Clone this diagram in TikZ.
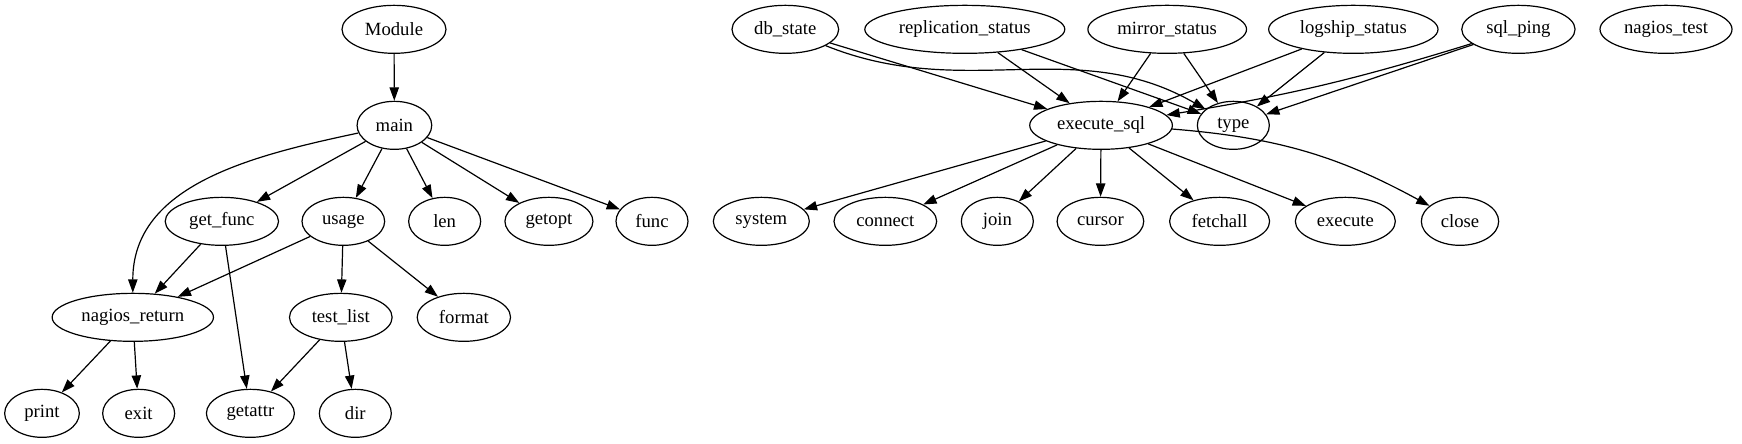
\documentclass[tikz,border=0pt]{standalone}
\usepackage{fontspec}
\setmainfont{Liberation Serif}
\usetikzlibrary{arrows.meta,shapes.geometric}

\begin{document}
\begin{tikzpicture}[x=1pt, y=1pt,
  fn/.style={draw, ellipse, line width=0.9pt, inner xsep=1pt, inner ysep=2pt, minimum width=#1, minimum height=36pt, font=\fontsize{14}{16}\selectfont},
  fn/.default=54pt,
  arrow/.style={-{Triangle[length=10pt, width=7pt]}, line width=0.9pt}
]
\useasboundingbox (0,0) rectangle (1306.5,-332.25);
% module graph
\node[fn=78pt] (Module) at (295.5,-22) {Module};
\node[fn=56pt] (main) at (295.8,-94) {main};
\node[fn=85pt] (getFunc) at (166.4,-166) {get\_func};
\node[fn=62pt] (usage) at (257.5,-166) {usage};
\node[fn] (len) at (333.5,-166) {len};
\node[fn=66pt] (getopt) at (411.7,-166) {getopt};
\node[fn] (func) at (489,-166) {func};
\node[fn=121pt] (nagiosReturn) at (99.6,-238) {nagios\_return};
\node[fn=77pt] (testList) at (255.6,-238) {test\_list};
\node[fn=70pt] (format) at (347.9,-238) {format};
\node[fn=56pt] (print) at (31.5,-310) {print};
\node[fn] (exit) at (104,-310) {exit};
\node[fn=66pt] (getattr) at (187.8,-310) {getattr};
\node[fn] (dir) at (266.5,-310) {dir};
% sql graph
\node[fn=80pt] (dbState) at (589,-22) {db\_state};
\node[fn=150pt] (replicationStatus) at (723.6,-22) {replication\_status};
\node[fn=119pt] (mirrorStatus) at (875.4,-22) {mirror\_status};
\node[fn=127pt] (logshipStatus) at (1015,-22) {logship\_status};
\node[fn=85pt] (sqlPing) at (1138.8,-22) {sql\_ping};
\node[fn=99pt] (nagiosTest) at (1249.5,-22) {nagios\_test};
\node[fn=107pt] (executeSql) at (825.8,-94) {execute\_sql};
\node[fn] (type) at (925,-94) {type};
\node[fn=72pt] (system) at (571,-166) {system};
\node[fn=77pt] (connect) at (664,-166) {connect};
\node[fn] (join) at (748,-166) {join};
\node[fn=65pt] (cursor) at (825.3,-166) {cursor};
\node[fn=75pt] (fetchall) at (914.7,-166) {fetchall};
\node[fn=75pt] (execute) at (1009,-166) {execute};
\node[fn=58pt] (close) at (1095,-166) {close};

\draw[arrow] (Module) -- (main);
\draw[arrow] (main) to[out=192, in=90] (nagiosReturn);
\draw[arrow] (main) -- (getFunc);
\draw[arrow] (main) -- (usage);
\draw[arrow] (main) -- (len);
\draw[arrow] (main) -- (getopt);
\draw[arrow] (main) -- (func);
\draw[arrow] (getFunc) -- (nagiosReturn);
\draw[arrow] (getFunc) -- (getattr);
\draw[arrow] (usage) -- (nagiosReturn);
\draw[arrow] (usage) -- (testList);
\draw[arrow] (usage) -- (format);
\draw[arrow] (nagiosReturn) -- (print);
\draw[arrow] (nagiosReturn) -- (exit);
\draw[arrow] (testList) -- (getattr);
\draw[arrow] (testList) -- (dir);

\draw[arrow] (dbState) -- (executeSql);
\draw[arrow] (dbState) to[out=-22, in=150] (type);
\draw[arrow] (replicationStatus) -- (executeSql);
\draw[arrow] (replicationStatus) -- (type);
\draw[arrow] (mirrorStatus) -- (executeSql);
\draw[arrow] (mirrorStatus) -- (type);
\draw[arrow] (logshipStatus) -- (executeSql);
\draw[arrow] (logshipStatus) -- (type);
\draw[arrow] (sqlPing) to[bend left=4] (executeSql);
\draw[arrow] (sqlPing) -- (type);
\draw[arrow] (executeSql) -- (system);
\draw[arrow] (executeSql) -- (connect);
\draw[arrow] (executeSql) -- (join);
\draw[arrow] (executeSql) -- (cursor);
\draw[arrow] (executeSql) -- (fetchall);
\draw[arrow] (executeSql) -- (execute);
\draw[arrow] (executeSql) to[bend left=12] (close);
\end{tikzpicture}
\end{document}
